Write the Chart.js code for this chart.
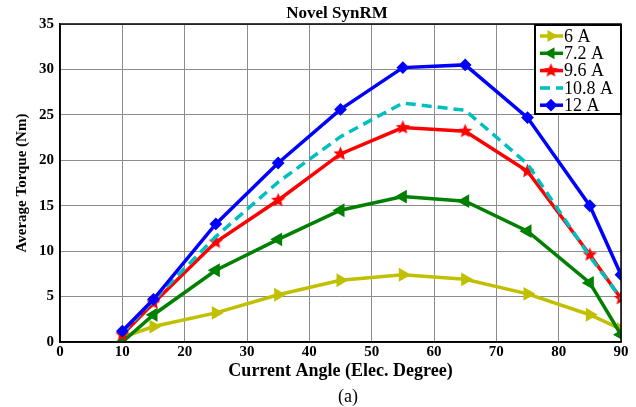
<!DOCTYPE html>
<html>
<head>
<meta charset="utf-8">
<script src="https://cdn.jsdelivr.net/npm/chart.js@4.4.1/dist/chart.umd.min.js"></script>
<style>
  html, body { margin: 0; padding: 0; background: #fff; }
  #wrap { position: relative; width: 636px; height: 407px; }
  #caption {
    position: absolute; left: 0; top: 386px; width: 636px; text-align: center;
    font: 18px "Liberation Serif", "Times New Roman", serif; color: #000;
    padding-left: 60px; box-sizing: border-box;
  }
</style>
</head>
<body>
<div id="wrap">
  <canvas id="chart" width="636" height="407"></canvas>
  <div id="caption">(a)</div>
</div>
<script>
const angles = [10, 15, 25, 35, 45, 55, 65, 75, 85, 90];
const seriesNames = ['6 A', '7.2 A', '9.6 A', '10.8 A', '12 A'];
const torque6 = [0.5, 1.7, 3.2, 5.2, 6.8, 7.4, 6.9, 5.3, 3.0, 1.4];
const torque72 = [0.0, 3.0, 7.9, 11.3, 14.5, 16.0, 15.5, 12.2, 6.5, 0.8];
const torque96 = [0.8, 4.3, 11.0, 15.6, 20.7, 23.6, 23.2, 18.8, 9.6, 4.8];
const torque108 = [1.0, 4.6, 11.6, 17.6, 22.6, 26.3, 25.5, 19.6, 9.4, 4.8];
const torque12 = [1.2, 4.7, 13.0, 19.7, 25.6, 30.2, 30.5, 24.7, 15.0, 7.4];
const xTicks = [0, 10, 20, 30, 40, 50, 60, 70, 80, 90];
const yTicks = [0, 5, 10, 15, 20, 25, 30, 35];

const SERIF = '"Liberation Serif", "Times New Roman", serif';
const COLORS = {
  yellow: '#c0c000',
  green: '#008000',
  red: '#ff0000',
  cyan: '#00bfbf',
  blue: '#0000ff',
};

// filled five-point star marker (MATLAB 'p')
function starMarker(color, r) {
  const c = document.createElement('canvas');
  const s = Math.ceil(r * 2 + 2);
  c.width = s; c.height = s;
  const g = c.getContext('2d');
  g.fillStyle = color;
  g.beginPath();
  for (let i = 0; i < 10; i++) {
    const rad = i % 2 ? r * 0.45 : r;
    const t = -Math.PI / 2 + i * Math.PI / 5;
    g.lineTo(s / 2 + rad * Math.cos(t), s / 2 + rad * Math.sin(t));
  }
  g.closePath();
  g.fill();
  return c;
}
const redStar = starMarker(COLORS.red, 7.5);

const pts = vals => angles.map((a, i) => ({ x: a, y: vals[i] }));

const datasets = [
  { label: seriesNames[0], data: pts(torque6), borderColor: COLORS.yellow, backgroundColor: COLORS.yellow,
    pointStyle: 'triangle', rotation: 90, pointRadius: 6, order: 5 },
  { label: seriesNames[1], data: pts(torque72), borderColor: COLORS.green, backgroundColor: COLORS.green,
    pointStyle: 'triangle', rotation: -90, pointRadius: 6, order: 4 },
  { label: seriesNames[2], data: pts(torque96), borderColor: COLORS.red, backgroundColor: COLORS.red,
    pointStyle: redStar, rotation: 0, pointRadius: 7, order: 3 },
  { label: seriesNames[3], data: pts(torque108), borderColor: COLORS.cyan, backgroundColor: COLORS.cyan,
    pointStyle: 'circle', rotation: 0, pointRadius: 0, borderDash: [10, 6], order: 2 },
  { label: seriesNames[4], data: pts(torque12), borderColor: COLORS.blue, backgroundColor: COLORS.blue,
    pointStyle: 'rectRot', rotation: 0, pointRadius: 5, order: 1 },
].map(d => Object.assign({ borderWidth: 3.5, pointBorderWidth: 2, tension: 0, fill: false }, d));

// frame, title and legend drawn over the plot
const framePlugin = {
  id: 'frame',
  afterDraw(chart) {
    const { ctx, chartArea: a } = chart;
    ctx.save();
    ctx.strokeStyle = '#000';
    ctx.lineWidth = 1.5;
    ctx.strokeRect(a.left, a.top, a.right - a.left, a.bottom - a.top);

    ctx.fillStyle = '#000';
    ctx.font = `bold 17px ${SERIF}`;
    ctx.textAlign = 'center';
    ctx.textBaseline = 'middle';
    ctx.fillText('Novel SynRM', 337, 14);

    // legend box
    const bx = 535, by = 25, bw = 86, bh = 89;
    ctx.fillStyle = '#fff';
    ctx.fillRect(bx, by, bw, bh);
    ctx.strokeStyle = '#000';
    ctx.lineWidth = 2;
    ctx.strokeRect(bx, by, bw, bh);
    datasets.forEach((d, i) => {
      const y = 36 + i * 17.3;
      ctx.strokeStyle = d.borderColor;
      ctx.fillStyle = d.backgroundColor;
      ctx.lineWidth = 3.5;
      ctx.setLineDash(d.borderDash || []);
      ctx.beginPath();
      ctx.moveTo(540, y);
      ctx.lineTo(563, y);
      ctx.stroke();
      ctx.setLineDash([]);
      if (d.pointRadius > 0) {
        ctx.lineWidth = 2;
        Chart.helpers.drawPoint(ctx, { pointStyle: d.pointStyle, rotation: d.rotation, radius: 5, borderWidth: 2 }, 551, y);
      }
      ctx.fillStyle = '#000';
      ctx.font = `18px ${SERIF}`;
      ctx.textAlign = 'left';
      ctx.fillText(d.label, 564, y + 1);
    });
    ctx.restore();
  },
};

new Chart(document.getElementById('chart'), {
  type: 'line',
  data: { datasets },
  plugins: [framePlugin],
  options: {
    responsive: false,
    animation: false,
    layout: { padding: { top: 24, right: 15, bottom: 24, left: 0 } },
    plugins: { legend: { display: false }, tooltip: { enabled: false } },
    scales: {
      x: {
        type: 'linear', min: 0, max: 90,
        afterBuildTicks: s => { s.ticks = xTicks.map(v => ({ value: v })); },
        afterFit: s => { s.height = 41; },
        grid: { color: '#8c8c8c', lineWidth: 1, drawTicks: false },
        border: { color: '#000', width: 1.5 },
        ticks: { color: '#000', padding: 1, font: { family: SERIF, size: 15, weight: 'bold' } },
        title: { display: true, text: 'Current Angle (Elec. Degree)', color: '#000', padding: { top: 0, bottom: 1 },
          font: { family: SERIF, size: 18, weight: 'bold' } },
      },
      y: {
        type: 'linear', min: 0, max: 35,
        afterBuildTicks: s => { s.ticks = yTicks.map(v => ({ value: v })); },
        afterFit: s => { s.width = 60; },
        grid: { color: '#8c8c8c', lineWidth: 1, drawTicks: false },
        border: { color: '#000', width: 1.5 },
        ticks: { color: '#000', padding: 6, font: { family: SERIF, size: 15, weight: 'bold' } },
        title: { display: true, text: 'Average Torque (Nm)', color: '#000', padding: { top: 13, bottom: 0 },
          font: { family: SERIF, size: 15, weight: 'bold' } },
      },
    },
  },
});
</script>
</body>
</html>
